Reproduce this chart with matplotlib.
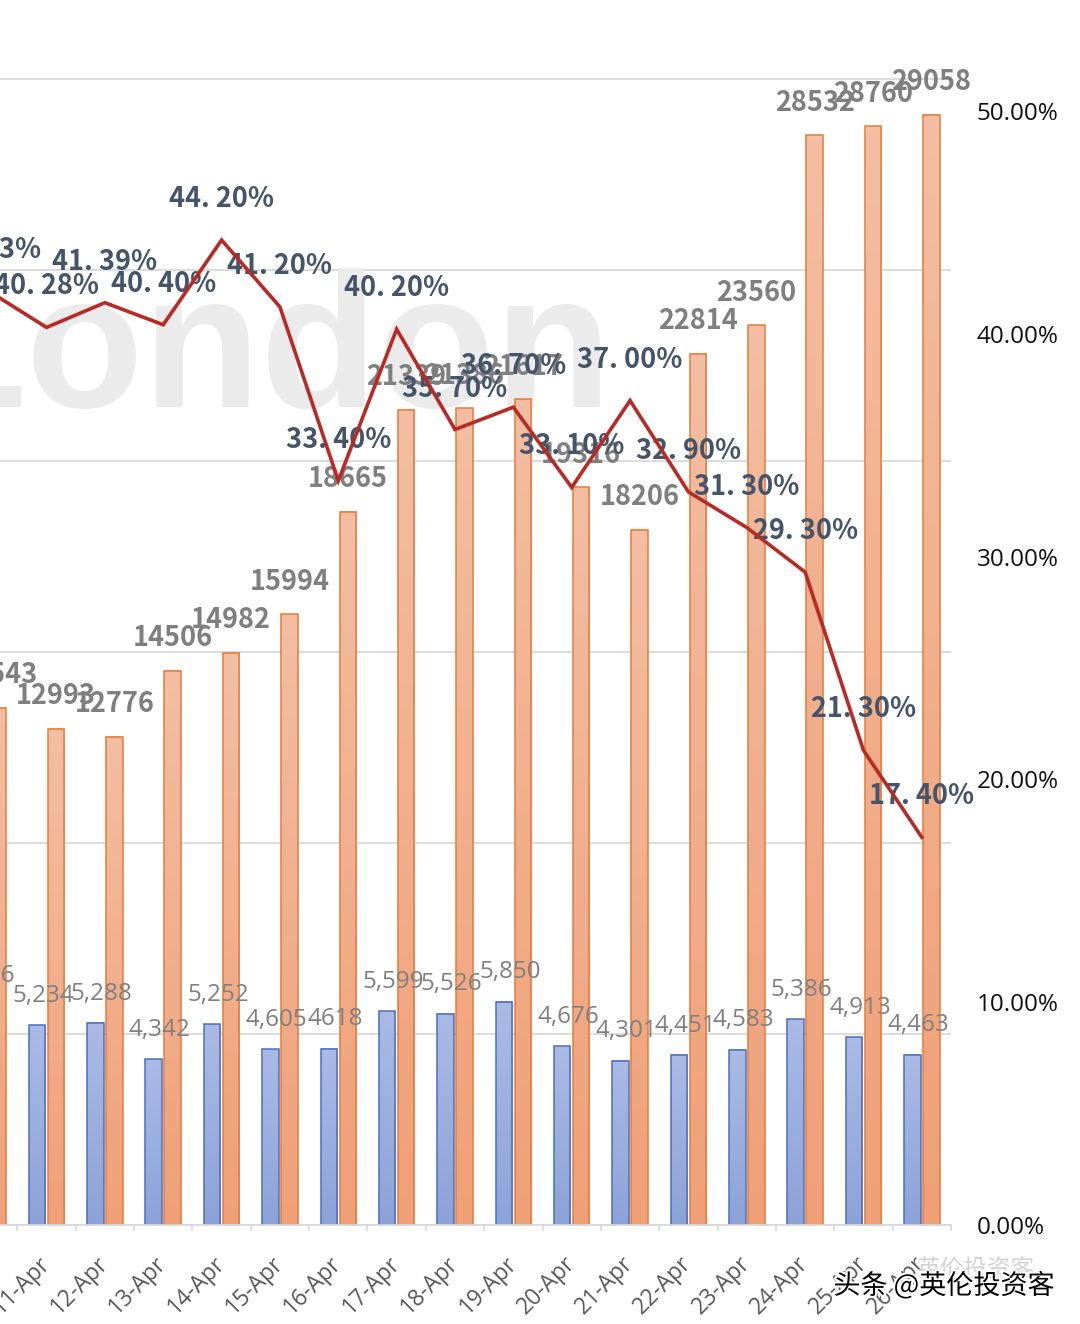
import numpy as np
import matplotlib
matplotlib.use('Agg')
import matplotlib.pyplot as plt
from matplotlib.colors import LinearSegmentedColormap
import matplotlib.patheffects as pe

# ---------------- data ----------------
dates = ['10-Apr', '11-Apr', '12-Apr', '13-Apr', '14-Apr', '15-Apr', '16-Apr',
         '17-Apr', '18-Apr', '19-Apr', '20-Apr', '21-Apr', '22-Apr', '23-Apr',
         '24-Apr', '25-Apr', '26-Apr']
blue_values = [5756, 5234, 5288, 4342, 5252, 4605, 4618, 5599, 5526, 5850,
               4676, 4301, 4451, 4583, 5386, 4913, 4463]
blue_labels = ['5,756', '5,234', '5,288', '4,342', '5,252', '4,605', '4618',
               '5,599', '5,526', '5,850', '4,676', '4,301', '4,451', '4,583',
               '5,386', '4,913', '4,463']
orange_values = [13543, 12993, 12776, 14506, 14982, 15994, 18665, 21339, 21386,
                 21617, 19316, 18206, 22814, 23560, 28532, 28760, 29058]
rate_values = [41.93, 40.28, 41.39, 40.40, 44.20, 41.20, 33.40, 40.20, 35.70,
               36.70, 33.10, 37.00, 32.90, 31.30, 29.30, 21.30, 17.40]
right_ticks = [0, 10, 20, 30, 40, 50]
left_grid = [0, 5000, 10000, 15000, 20000, 25000, 30000, 35000]

# ---------------- layout helpers (pixel -> figure fraction) ----------------
FW, FH = 1080, 1324
def fx(px):
    return px / FW
def fy(py):
    return 1 - py / FH

fig = plt.figure(figsize=(FW / 100, FH / 100), dpi=100)
ax_l, ax_r, ax_b, ax_t = -41, 951, 1225, -112
ax = fig.add_axes([fx(ax_l), fy(ax_b), fx(ax_r) - fx(ax_l), fy(ax_t) - fy(ax_b)])
ax.patch.set_alpha(0)

n = len(dates)
x = np.arange(n)
bw = 0.283
off = 0.163

grid_c = '#D9D9D9'
ax.set_axisbelow(True)
ax.set_yticks(left_grid)
ax.yaxis.grid(True, color=grid_c, lw=1.3)
ax.tick_params(axis='y', left=False, labelleft=False)
for s in ['left', 'right', 'top']:
    ax.spines[s].set_visible(False)
ax.spines['bottom'].set_color(grid_c)
ax.spines['bottom'].set_linewidth(1.3)

def gradient_bars(bars, top_c, bot_c, z):
    cmap = LinearSegmentedColormap.from_list('g', [bot_c, top_c])
    grad = np.linspace(0, 1, 256).reshape(-1, 1)
    for b in bars:
        x0, w, h = b.get_x(), b.get_width(), b.get_height()
        ax.imshow(grad, extent=(x0, x0 + w, 0, h), origin='lower', cmap=cmap,
                  aspect='auto', zorder=z - 0.01, interpolation='bilinear')
        b.set_facecolor('none')

blue_bars = ax.bar(x - off, blue_values, width=bw, edgecolor='#4A6FC2',
                   linewidth=1.1, zorder=2)
orange_bars = ax.bar(x + off, orange_values, width=bw, edgecolor='#E67C38',
                     linewidth=1.1, zorder=2)
gradient_bars(blue_bars, '#AABAE4', '#8CA3D8', 2)
gradient_bars(orange_bars, '#F3BEA3', '#EFA077', 2)

ax.set_xlim(-0.5, n - 0.5)
ax.set_ylim(0, 35000)

# x ticks
ax.set_xticks(x)
ax.set_xticklabels(dates, rotation=45, ha='right', va='center',
                   rotation_mode='anchor', color='#595959', fontsize=16.5,
                   family=['Open Sans', 'DejaVu Sans'])
ax.tick_params(axis='x', length=0, pad=25)
ax.set_xticks(list(x[:-1] + 0.5) + [n - 0.5], minor=True)
ax.tick_params(axis='x', which='minor', length=4, color=grid_c, width=1.2)

# bar labels
for xi, v in zip(x, orange_values):
    ax.annotate(str(v), xy=(xi + off, v), xytext=(0, 23.4),
                textcoords='offset points', ha='center', va='center',
                fontsize=19.5, fontweight='bold', color='#7F7F7F',
                family=['Noto Sans CJK SC', 'DejaVu Sans'], zorder=3,
                annotation_clip=False)
for xi, v, lab in zip(x, blue_values, blue_labels):
    ax.annotate(lab, xy=(xi - off, v), xytext=(4.3, 21.2),
                textcoords='offset points', ha='center', va='center',
                fontsize=17.5, color='#808080',
                family=['Open Sans', 'DejaVu Sans'], zorder=3,
                annotation_clip=False)

# watermark "London"
ax.text(fx(612), fy(407), 'London', transform=fig.transFigure, ha='right',
        va='baseline', fontsize=138, fontweight='bold', color='#EBEBEB',
        family=['Liberation Sans', 'DejaVu Sans'], zorder=0.8)

# ---------------- rate line on secondary axis ----------------
ax2 = ax.twinx()
ax2.patch.set_alpha(0)
rates = np.array(rate_values) / 100
ax2.plot(x, rates, color='#BA2A24', lw=2.6, zorder=5, solid_joinstyle='miter')
ax2.set_ylim(0, 0.6)
ax2.set_yticks(np.array(right_ticks) / 100)
ax2.set_yticklabels([f'{t:.2f}%' for t in right_ticks], fontsize=17.5,
                    color='#111111', family=['Open Sans', 'DejaVu Sans'])
ax2.tick_params(axis='y', length=0, pad=18.7)
for s in ax2.spines.values():
    s.set_visible(False)
for xi, r in zip(x, rate_values):
    lab = f'{r:.2f}'.replace('.', '. ') + '%'
    ax2.annotate(lab, xy=(xi, r / 100), xytext=(0, 29.5),
                 textcoords='offset points', ha='center', va='center',
                 fontsize=19.5, fontweight='bold', color='#44546A',
                 family=['Noto Sans CJK SC', 'DejaVu Sans'], zorder=4,
                 annotation_clip=False)

# ---------------- bottom-right watermark ----------------
fig.text(fx(975), fy(1270), '英伦投资客', ha='center', va='center', fontsize=17,
         color='#D3D3D3', family=['Noto Sans CJK SC', 'DejaVu Sans'])
fig.text(fx(1055), fy(1286), '头条 @英伦投资客', ha='right', va='center',
         fontsize=19.5, color='#000000',
         family=['Noto Sans CJK SC', 'DejaVu Sans'],
         path_effects=[pe.withStroke(linewidth=3, foreground='white')])

fig.savefig('out.png', dpi=100)
